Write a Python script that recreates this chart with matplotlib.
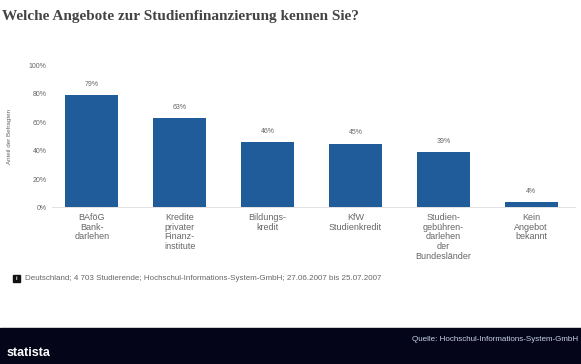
import matplotlib as mpl
import matplotlib.pyplot as plt
import numpy as np
from matplotlib.patches import Rectangle

mpl.rcParams['font.family'] = ['Liberation Sans', 'DejaVu Sans']

# Survey answers (share of respondents, %)
categories = ['BAföG\nBank-\ndarlehen', 'Kredite\nprivater\nFinanz-\ninstitute',
              'Bildungs-\nkredit', 'KfW\nStudienkredit',
              'Studien-\ngebühren-\ndarlehen\nder\nBundesländer',
              'Kein\nAngebot\nbekannt']
shares = [79, 63, 46, 45, 39, 4]
y_ticks = [0, 20, 40, 60, 80, 100]

title = 'Welche Angebote zur Studienfinanzierung kennen Sie?'
note = 'Deutschland; 4 703 Studierende; Hochschul-Informations-System-GmbH; 27.06.2007 bis 25.07.2007'
source = 'Quelle: Hochschul-Informations-System-GmbH'

bar_color = '#1f5c99'
grey = '#666666'

fig = plt.figure(figsize=(5.81, 3.64), dpi=100)
ax = fig.add_axes([0.09, 0.43, 0.90, 0.39])

x = np.arange(len(shares))
ax.bar(x, shares, width=0.6, color=bar_color, zorder=2)
for xi, v in zip(x, shares):
    ax.text(xi, v + 5, '%d%%' % v, ha='center', va='bottom', fontsize=5, color=grey)

ax.set_xlim(-0.45, 5.5)
ax.set_ylim(0, 100)
ax.set_yticks(y_ticks)
ax.set_yticklabels(['%d%%' % t for t in y_ticks], fontsize=5, color=grey)
ax.set_xticks(x)
ax.set_xticklabels(categories, fontsize=6.5, color=grey, linespacing=1.1)
ax.tick_params(length=0, pad=4)
ax.set_ylabel('Anteil der Befragten', fontsize=4.5, color=grey, labelpad=12)
for s in ['top', 'right', 'left']:
    ax.spines[s].set_visible(False)
ax.spines['bottom'].set_color('#dddddd')
ax.spines['bottom'].set_linewidth(0.6)

fig.text(0.003, 0.955, title, fontsize=11, color='#444444', fontweight='semibold',
         family=['Liberation Serif', 'DejaVu Serif'], ha='left', va='center')

# footnote with info icon
fig.patches.append(Rectangle((0.022, 0.225), 0.012, 0.02, transform=fig.transFigure,
                             color='#111111', figure=fig))
fig.text(0.028, 0.235, 'i', fontsize=4, color='white', ha='center', va='center',
         fontweight='bold')
fig.text(0.043, 0.235, note, fontsize=5.8, color=grey, ha='left', va='center')

# black footer band
fig.patches.append(Rectangle((0, 0), 1, 0.1, transform=fig.transFigure,
                             color='#05051a', figure=fig))
fig.text(0.995, 0.068, source, fontsize=5.8, color='#c8d4e6', ha='right', va='center')
fig.text(0.012, 0.03, 'statista', fontsize=9, color='white', ha='left', va='center',
         fontweight='bold')

fig.savefig('out.png', dpi=100)
